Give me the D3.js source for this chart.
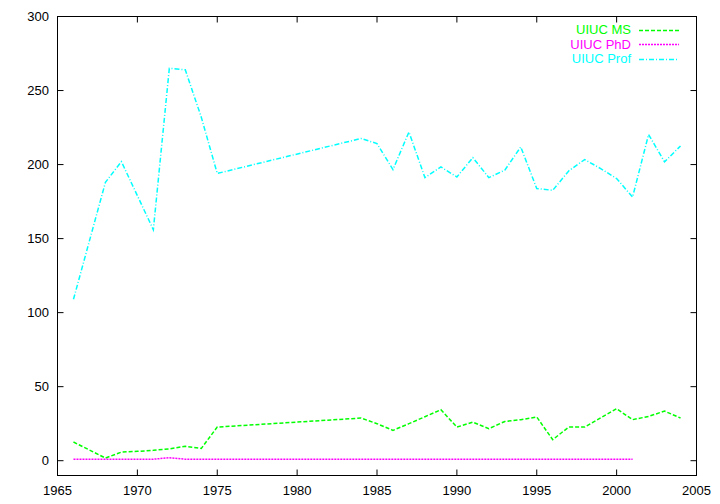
<!DOCTYPE html>
<html><head><meta charset="utf-8">
<script src="https://cdn.jsdelivr.net/npm/d3@7"></script>
<style>body{margin:0;background:#fff}svg{display:block}text{font-family:"Liberation Sans",Arial,sans-serif;font-size:13px}</style>
</head><body><svg id="c" width="720" height="504"></svg>
<script>
const years = [1966,1968,1969,1970,1971,1972,1973,1974,1975,1984,1985,1986,1987,1988,1989,1990,1991,1992,1993,1994,1995,1996,1997,1998,1999,2000,2001,2002,2003,2004];
const msValues = [12.6,1.8,5.8,6.3,7,8,9.7,8.3,22.7,28.8,25,20.5,25,29.7,34.4,22.7,26,21.6,26.5,27.7,29.5,14.2,22.7,22.7,29,35.1,27.7,29.9,33.5,28.8];
const phdYears = [1966,1968,1969,1970,1971,1972,1973,1974,1975,1984,1985,1986,1987,1988,1989,1990,1991,1992,1993,1994,1995,1996,1997,1998,1999,2000,2001];
const phdValues = [1,1,1,1,1,2,1,1,1,1,1,1,1,1,1,1,1,1,1,1,1,1,1,1,1,1,1];
const profValues = [109,188,202,179,156,265,264,232,194,217.6,214.2,196.6,222,191.2,198.4,191.6,204.7,191.2,196.2,211.9,183.8,182.6,195.7,203.4,197.3,190.5,178.1,220.3,201.8,212.6];
const xTicks = [1965,1970,1975,1980,1985,1990,1995,2000,2005];
const yTicks = [0,50,100,150,200,250,300];
const seriesNames = ["UIUC MS","UIUC PhD","UIUC Prof"];
const seriesColors = ["#00ff00","#ff00ff","#00ffff"];
const seriesDash = ["4,2","2,1","5,2,1,2"];

const svg = d3.select("#c");
const L=57.5, R=696.5, T=16.5, B=475.5;
const x = d3.scaleLinear().domain([1965,2005]).range([L,R]);
const y = d3.scaleLinear().domain([-10,300]).range([B,T]);

const g = svg.append("g");
xTicks.forEach(t=>{
  g.append("line").attr("x1",x(t)).attr("x2",x(t)).attr("y1",B).attr("y2",B-6).attr("stroke","#000");
  g.append("line").attr("x1",x(t)).attr("x2",x(t)).attr("y1",T).attr("y2",T+6).attr("stroke","#000");
  g.append("text").attr("x",x(t)).attr("y",B+19.5).attr("text-anchor","middle").text(t);
});
yTicks.forEach(t=>{
  g.append("line").attr("x1",L).attr("x2",L+6).attr("y1",y(t)).attr("y2",y(t)).attr("stroke","#000");
  g.append("line").attr("x1",R).attr("x2",R-6).attr("y1",y(t)).attr("y2",y(t)).attr("stroke","#000");
  g.append("text").attr("x",L-8.5).attr("y",y(t)).attr("dy","0.35em").attr("text-anchor","end").text(t);
});
svg.append("rect").attr("x",L).attr("y",T).attr("width",R-L).attr("height",B-T).attr("fill","none").attr("stroke","#000");

const line = d3.line().x(d=>x(d[0])).y(d=>y(d[1]));
const data = [
  years.map((yr,i)=>[yr,msValues[i]]),
  phdYears.map((yr,i)=>[yr,phdValues[i]]),
  years.map((yr,i)=>[yr,profValues[i]])
];
data.forEach((d,i)=>{
  svg.append("path").datum(d).attr("d",line).attr("fill","none")
    .attr("stroke",seriesColors[i]).attr("stroke-width",1.5).attr("stroke-dasharray",seriesDash[i]);
});

const ly=[29.5,44,58.5];
seriesNames.forEach((n,i)=>{
  svg.append("text").attr("x",631).attr("y",ly[i]).attr("dy","0.35em").attr("text-anchor","end")
    .attr("fill",seriesColors[i]).style("font-size","13px").text(n);
  svg.append("line").attr("x1",639).attr("x2",679).attr("y1",Math.round(ly[i])+0.5).attr("y2",Math.round(ly[i])+0.5)
    .attr("stroke",seriesColors[i]).attr("stroke-width",1.5).attr("stroke-dasharray",seriesDash[i]);
});
</script></body></html>
